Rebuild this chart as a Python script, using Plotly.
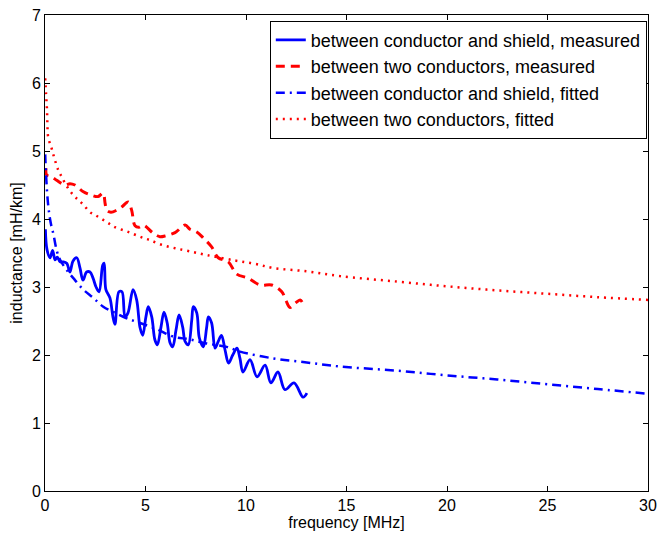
import plotly.graph_objects as go

# inductance vs frequency
# measured, between conductor and shield
f_cs_meas = [0.02, 0.10, 0.25, 0.38, 0.50, 0.61, 0.75, 0.90, 1.08, 1.24, 1.39, 1.58, 1.74, 1.89,
             2.07, 2.24, 2.39, 2.54, 2.69, 2.87, 2.94, 3.03, 3.23, 3.38, 3.48, 3.68, 3.83, 3.98,
             4.13, 4.38, 4.56, 4.73, 4.86, 5.02, 5.14, 5.31, 5.47, 5.59, 5.77, 5.92, 6.08, 6.22,
             6.35, 6.52, 6.67, 6.85, 6.97, 7.13, 7.30, 7.38, 7.55, 7.68, 7.88, 8.04, 8.13, 8.29,
             8.46, 8.62, 8.78, 8.96, 9.13, 9.34, 9.55, 9.70, 9.85, 10.20, 10.55, 10.95, 11.24,
             11.59, 11.94, 12.39, 12.84, 13.03]
L_cs_meas = [3.85, 3.55, 3.43, 3.54, 3.40, 3.44, 3.37, 3.37, 3.35, 3.22, 3.38, 3.43, 3.28, 3.10,
             3.22, 3.22, 3.13, 3.00, 2.93, 3.32, 3.35, 2.96, 2.84, 2.56, 2.45, 2.93, 2.93, 2.56,
             2.62, 2.96, 2.81, 2.40, 2.29, 2.56, 2.71, 2.56, 2.22, 2.15, 2.41, 2.63, 2.47, 2.18,
             2.12, 2.37, 2.59, 2.41, 2.20, 2.15, 2.51, 2.71, 2.62, 2.25, 2.12, 2.40, 2.56, 2.47,
             2.10, 2.20, 2.29, 2.07, 1.88, 2.00, 2.10, 1.95, 1.75, 1.93, 1.68, 1.85, 1.59,
             1.75, 1.49, 1.59, 1.38, 1.44]

# measured, between two conductors
f_cc_meas = [0.05, 0.08, 0.33, 0.58, 1.00, 1.24, 1.49, 1.91, 2.32, 2.64, 2.89, 2.99, 3.07, 3.28,
             3.57, 3.83, 4.14, 4.31, 4.48, 4.68, 4.89, 5.39, 5.72, 5.97, 6.47, 6.97, 7.21, 7.55,
             7.88, 8.29, 8.62, 9.12, 9.54, 10.11, 10.70, 11.28, 11.78, 11.99, 12.19, 12.44,
             12.69, 12.79]
L_cc_meas = [4.75, 4.65, 4.62, 4.57, 4.50, 4.52, 4.50, 4.40, 4.35, 4.33, 4.38, 4.23, 4.13, 4.10,
             4.13, 4.18, 4.25, 4.13, 3.90, 3.88, 3.91, 3.79, 3.74, 3.75, 3.80, 3.91, 3.85, 3.81,
             3.72, 3.59, 3.43, 3.37, 3.19, 3.13, 3.03, 3.03, 2.93, 2.80, 2.70, 2.76,
             2.81, 2.78]

# fitted, between conductor and shield
f_cs_fit = [0.01, 0.02, 0.08, 0.16, 0.25, 0.33, 0.41, 0.58, 0.75, 1.08, 1.41, 1.91, 2.40, 2.90,
            3.48, 4.06, 4.73, 5.56, 6.38, 7.21, 8.04, 9.04, 9.70, 11.36, 13.02, 14.68, 17.5,
            20.0, 22.5, 25.0, 27.5, 30.0]
L_cs_fit = [4.95, 4.87, 4.50, 4.20, 4.00, 3.88, 3.79, 3.54, 3.40, 3.25, 3.13, 2.96, 2.84, 2.71,
            2.62, 2.54, 2.47, 2.38, 2.27, 2.23, 2.17, 2.12, 2.05, 1.95, 1.89, 1.83, 1.77,
            1.70, 1.64, 1.57, 1.50, 1.43]

# fitted, between two conductors
f_cc_fit = [0.01, 0.05, 0.10, 0.12, 0.16, 0.33, 0.45, 0.66, 0.83, 1.09, 1.41, 1.66, 1.91, 2.24,
            2.49, 2.82, 3.15, 3.48, 4.14, 4.81, 5.22, 5.81, 6.47, 7.13, 8.04, 9.45, 10.45,
            11.36, 13.02, 14.68, 17.5, 20.0, 22.5, 25.0, 27.5, 30.0]
L_cc_fit = [6.07, 5.85, 5.60, 5.40, 5.20, 5.04, 4.91, 4.72, 4.62, 4.48, 4.35, 4.28, 4.21, 4.10,
            4.06, 4.00, 3.94, 3.88, 3.81, 3.73, 3.69, 3.62, 3.57, 3.53, 3.47, 3.39, 3.34,
            3.28, 3.23, 3.16, 3.08, 3.01, 2.95, 2.90, 2.85, 2.81]

x_ticks = [0, 5, 10, 15, 20, 25, 30]
y_ticks = [0, 1, 2, 3, 4, 5, 6, 7]

fig = go.Figure()
fig.add_trace(go.Scatter(x=f_cs_meas, y=L_cs_meas, mode='lines', line_shape='spline',
                         name='between conductor and shield, measured',
                         line=dict(color='#0000ff', width=2.8)))
fig.add_trace(go.Scatter(x=f_cc_meas, y=L_cc_meas, mode='lines', line_shape='spline',
                         name='between two conductors, measured',
                         line=dict(color='#ff0000', width=3, dash='9px,6px')))
fig.add_trace(go.Scatter(x=f_cs_fit, y=L_cs_fit, mode='lines', line_shape='spline',
                         name='between conductor and shield, fitted',
                         line=dict(color='#0000ff', width=2.5, dash='9px,5px,2px,5px')))
fig.add_trace(go.Scatter(x=f_cc_fit, y=L_cc_fit, mode='lines', line_shape='spline',
                         name='between two conductors, fitted',
                         line=dict(color='#ff0000', width=2.5, dash='2px,5px')))

axis_style = dict(showline=True, linecolor='black', linewidth=1, mirror='ticks',
                  ticks='inside', ticklen=5, tickcolor='black', showgrid=False,
                  zeroline=False, ticklabeloverflow='allow',
                  tickfont=dict(size=16, color='black'))

fig.update_xaxes(range=[0, 30], tickvals=x_ticks,
                 title=dict(text='frequency [MHz]', font=dict(size=16, color='black'), standoff=2),
                 **axis_style)
fig.update_yaxes(range=[0, 7], tickvals=y_ticks,
                 title=dict(text='inductance [mH/km]', font=dict(size=16, color='black'), standoff=5),
                 **axis_style)

fig.update_layout(
    width=658, height=536,
    margin=dict(l=45, r=10, t=15, b=45, autoexpand=False),
    plot_bgcolor='white', paper_bgcolor='white',
    font=dict(family='Liberation Sans, Arial, sans-serif', color='black'),
    legend=dict(x=0.998, y=0.988, xanchor='right', yanchor='top',
                bgcolor='white', bordercolor='black', borderwidth=1,
                font=dict(size=18), tracegroupgap=0, itemwidth=30),
)

# drop the page's default body margin so the figure sits at the window corner
fig.write_html("out.html", config={'displayModeBar': False},
               post_script="document.body.style.margin = '0';")
